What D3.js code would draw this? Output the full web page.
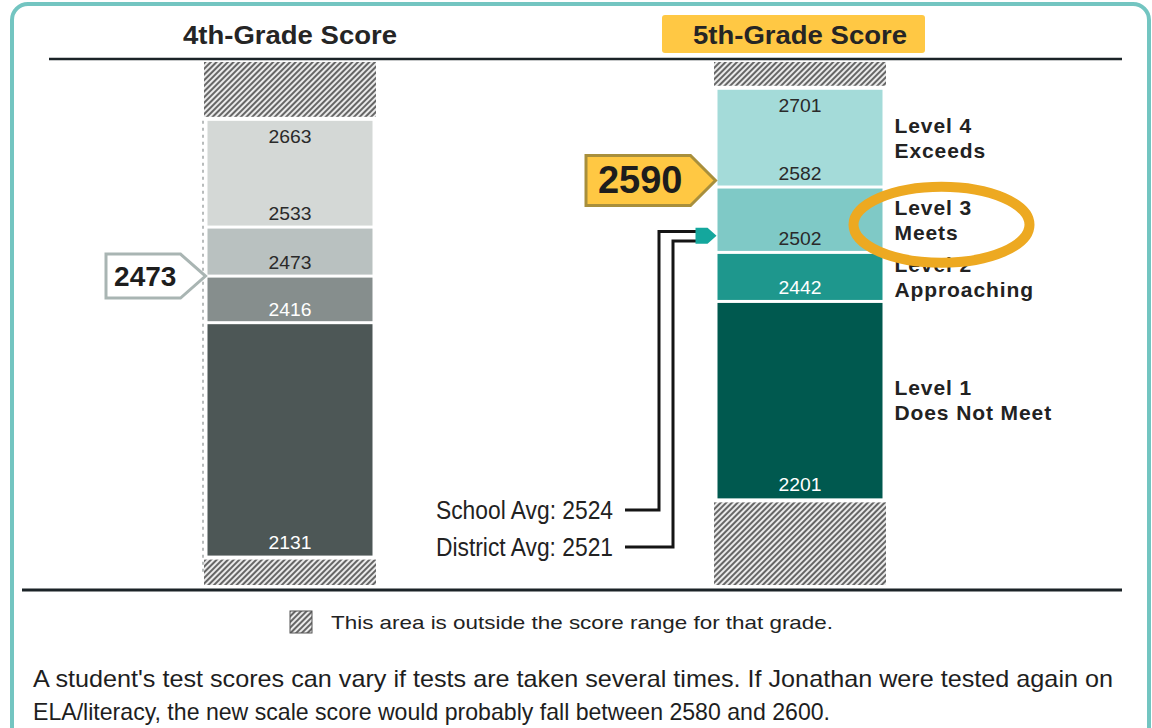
<!DOCTYPE html>
<html>
<head>
<meta charset="utf-8">
<script src="https://cdn.jsdelivr.net/npm/d3@7"></script>
<style>
  body { margin: 0; background: #fff; }
  svg { display: block; font-family: "Liberation Sans", Arial, sans-serif; }
</style>
</head>
<body>
<div id="chart"></div>
<script>
// data
var grades = ["4th-Grade Score", "5th-Grade Score"];
var grade4Cuts = [2131, 2416, 2473, 2533, 2663];   // level lower bounds + max
var grade5Cuts = [2201, 2442, 2502, 2582, 2701];
var levelNames = [["Level 1", "Does Not Meet"], ["Level 2", "Approaching"], ["Level 3", "Meets"], ["Level 4", "Exceeds"]];
var grade4Colors = ["#4d5756", "#868e8d", "#b9c1c0", "#d4d8d6"];
var grade5Colors = ["#00594f", "#1e978d", "#7fc9c6", "#a4dbd9"];
var studentScores = [2473, 2590];
var schoolAvg = 2524;
var districtAvg = 2521;
var retestRange = [2580, 2600];
var scaleExtent = [2095, 2735];

var width = 1152, height = 728;
var barW = 165, hatchW = 172;

var svg = d3.select("#chart").append("svg")
  .attr("width", width)
  .attr("height", height);

var defs = svg.append("defs");
var hatch = defs.append("pattern")
  .attr("id", "hatch")
  .attr("patternUnits", "userSpaceOnUse")
  .attr("width", 4).attr("height", 4)
  .attr("patternTransform", "rotate(45)");
hatch.append("rect").attr("width", 4).attr("height", 4).attr("fill", "#eaeaea");
hatch.append("rect").attr("width", 2).attr("height", 4).attr("fill", "#666");

// teal frame
svg.append("rect")
  .attr("x", 12).attr("y", 4)
  .attr("width", 1137).attr("height", 780)
  .attr("rx", 16)
  .attr("fill", "none")
  .attr("stroke", "#73c5c1")
  .attr("stroke-width", 4);

var x = d3.scalePoint().domain(grades).range([290, 800]);
var y = d3.scaleLinear().domain(scaleExtent).range([585, 62]);

// headers
svg.append("rect")
  .attr("x", x(grades[1]) - 138).attr("y", 15)
  .attr("width", 263).attr("height", 38)
  .attr("rx", 3)
  .attr("fill", "#ffc844");

svg.selectAll(".head")
  .data(grades)
  .enter().append("text")
  .attr("class", "head")
  .attr("x", d => x(d))
  .attr("y", 35)
  .attr("text-anchor", "middle")
  .attr("dominant-baseline", "central")
  .attr("font-weight", "bold")
  .attr("font-size", 26)
  .attr("textLength", 214)
  .attr("lengthAdjust", "spacingAndGlyphs")
  .attr("fill", "#252525")
  .text(d => d);

// rules
svg.append("line").attr("x1", 49).attr("x2", 1122).attr("y1", 59).attr("y2", 59)
  .attr("stroke", "#1b2327").attr("stroke-width", 2.5);
svg.append("line").attr("x1", 22).attr("x2", 1122).attr("y1", 590).attr("y2", 590)
  .attr("stroke", "#1b2327").attr("stroke-width", 3);

function drawBar(grade, cuts, colors) {
  var cx = x(grade);
  var g = svg.append("g");
  var top = cuts[cuts.length - 1], bottom = cuts[0];

  // out of range areas
  g.append("rect")
    .attr("x", cx - hatchW / 2).attr("y", y(scaleExtent[1]))
    .attr("width", hatchW).attr("height", y(top) - 4 - y(scaleExtent[1]))
    .attr("fill", "url(#hatch)");
  g.append("rect")
    .attr("x", cx - hatchW / 2).attr("y", y(bottom) + 4)
    .attr("width", hatchW).attr("height", y(scaleExtent[0]) - y(bottom) - 4)
    .attr("fill", "url(#hatch)");

  var segs = d3.range(4).map(i => ({ lo: cuts[i], hi: cuts[i + 1], i: i }));
  g.selectAll(".seg")
    .data(segs)
    .enter().append("rect")
    .attr("x", cx - barW / 2)
    .attr("y", d => y(d.hi) + (d.i < 3 ? 1.5 : 0))
    .attr("width", barW)
    .attr("height", d => y(d.lo) - y(d.hi) - (d.i < 3 ? 1.5 : 0) - (d.i > 0 ? 1.5 : 0))
    .attr("fill", d => colors[d.i]);

  g.selectAll(".lbl")
    .data(segs)
    .enter().append("text")
    .attr("x", cx)
    .attr("y", d => y(d.lo) - 7)
    .attr("text-anchor", "middle")
    .attr("font-size", 19)
    .attr("textLength", 43)
    .attr("lengthAdjust", "spacingAndGlyphs")
    .attr("fill", d => d.i < 2 ? "#ffffff" : "#2a2a2a")
    .text(d => d.lo);

  g.append("text")
    .attr("x", cx)
    .attr("y", y(top) + 22)
    .attr("text-anchor", "middle")
    .attr("font-size", 19)
    .attr("textLength", 43)
    .attr("lengthAdjust", "spacingAndGlyphs")
    .attr("fill", "#2a2a2a")
    .text(top);
  return segs;
}

// dotted guide next to 4th grade bar
svg.append("line")
  .attr("x1", x(grades[0]) - 87).attr("x2", x(grades[0]) - 87)
  .attr("y1", y(grade4Cuts[4])).attr("y2", y(scaleExtent[0]) - 12)
  .attr("stroke", "#b8bcbc").attr("stroke-width", 2)
  .attr("stroke-dasharray", "3,4");

drawBar(grades[0], grade4Cuts, grade4Colors);
var segs5 = drawBar(grades[1], grade5Cuts, grade5Colors);

// level names for 5th grade
var labelX = x(grades[1]) + barW / 2 + 12;
var lvl = svg.selectAll(".lvl")
  .data(segs5)
  .enter().append("text")
  .attr("font-weight", "bold")
  .attr("font-size", 21)
  .attr("letter-spacing", 0.9)
  .attr("fill", "#222");
lvl.append("tspan")
  .attr("x", labelX)
  .attr("y", d => (y(d.lo) + y(d.hi)) / 2 - 5)
  .text(d => levelNames[d.i][0]);
lvl.append("tspan")
  .attr("x", labelX)
  .attr("y", d => (y(d.lo) + y(d.hi)) / 2 + 20)
  .text(d => levelNames[d.i][1]);

// highlight ellipse around Level 3
svg.append("ellipse")
  .attr("cx", labelX + 47)
  .attr("cy", (y(grade5Cuts[2]) + y(grade5Cuts[3])) / 2 + 5)
  .attr("rx", 88).attr("ry", 38)
  .attr("fill", "none")
  .attr("stroke", "#eda921")
  .attr("stroke-width", 10);

// student score callouts
function callout(score, grade, left, h, fill, stroke, fs) {
  var tip = x(grade) - barW / 2 - 2;
  var cy = y(score);
  var body = tip - 25;
  svg.append("path")
    .attr("d", "M" + left + "," + (cy - h / 2) + "H" + body + "L" + tip + "," + cy +
      "L" + body + "," + (cy + h / 2) + "H" + left + "Z")
    .attr("fill", fill)
    .attr("stroke", stroke)
    .attr("stroke-width", 3);
  svg.append("text")
    .attr("x", (left + body) / 2 + 2)
    .attr("y", cy)
    .attr("dominant-baseline", "central")
    .attr("text-anchor", "middle")
    .attr("font-weight", "bold")
    .attr("font-size", fs)
    .attr("fill", "#1d1d1d")
    .text(score);
}
callout(studentScores[0], grades[0], 106, 44, "#ffffff", "#a9b5b3", 28);
callout(studentScores[1], grades[1], 586, 50, "#ffc843", "#a88f3c", 38);

// school / district averages
var avgs = [
  { name: "School Avg: ", value: schoolAvg, ty: 510, vx: 659, off: -3 },
  { name: "District Avg: ", value: districtAvg, ty: 547, vx: 673, off: 4 }
];
var arrowX = x(grades[1]) - barW / 2 - 22;
avgs.forEach(function(a) {
  svg.append("text")
    .attr("x", 613).attr("y", a.ty)
    .attr("text-anchor", "end")
    .attr("dominant-baseline", "central")
    .attr("font-size", 26)
    .attr("textLength", 177)
    .attr("lengthAdjust", "spacingAndGlyphs")
    .attr("fill", "#222")
    .text(a.name + a.value);
  svg.append("path")
    .attr("d", "M625," + a.ty + "H" + a.vx + "V" + (y(a.value) + a.off) + "H" + (arrowX + 2))
    .attr("fill", "none")
    .attr("stroke", "#151515")
    .attr("stroke-width", 3);
});
var ay = (y(schoolAvg) + y(districtAvg)) / 2;
svg.append("path")
  .attr("d", "M" + arrowX + "," + (ay - 8) + "H" + (arrowX + 12) + "L" + (arrowX + 21) + "," + ay +
    "L" + (arrowX + 12) + "," + (ay + 8) + "H" + arrowX + "Z")
  .attr("fill", "#14a79d");

// legend
svg.append("rect")
  .attr("x", 290).attr("y", 611)
  .attr("width", 22).attr("height", 22)
  .attr("fill", "url(#hatch)")
  .attr("stroke", "#555").attr("stroke-width", 1);
svg.append("text")
  .attr("x", 331).attr("y", 622)
  .attr("dominant-baseline", "central")
  .attr("font-size", 19)
  .attr("textLength", 502)
  .attr("lengthAdjust", "spacingAndGlyphs")
  .attr("fill", "#222")
  .text("This area is outside the score range for that grade.");

// footnote
var note = svg.append("text")
  .attr("font-size", 24)
  .attr("fill", "#1e1e1e");
note.append("tspan").attr("x", 33).attr("y", 687)
  .attr("textLength", 1080)
  .attr("lengthAdjust", "spacingAndGlyphs")
  .text("A student's test scores can vary if tests are taken several times. If Jonathan were tested again on");
note.append("tspan").attr("x", 33).attr("y", 720)
  .attr("textLength", 797)
  .attr("lengthAdjust", "spacingAndGlyphs")
  .text("ELA/literacy, the new scale score would probably fall between " + retestRange[0] + " and " + retestRange[1] + ".");
</script>
</body>
</html>
